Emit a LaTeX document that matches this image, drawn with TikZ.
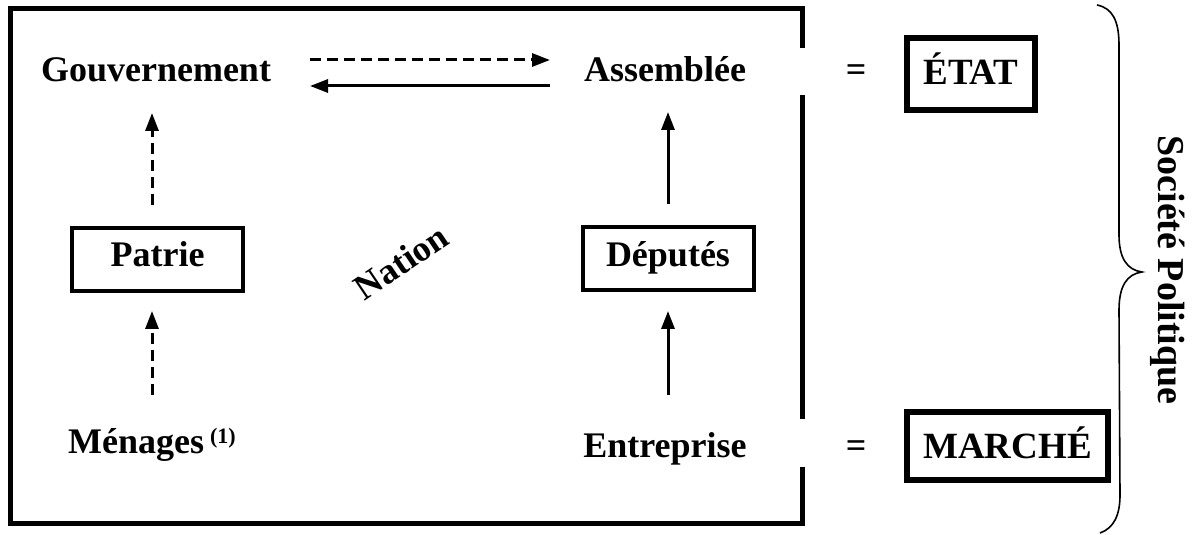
\documentclass[tikz,border=0pt]{standalone}
\usepackage{fontspec}
\setmainfont{Liberation Serif}
\usetikzlibrary{arrows.meta}
\begin{document}
\begin{tikzpicture}[x=1bp,y=-1bp,
  lbl/.style={font=\fontsize{36bp}{40bp}\selectfont\bfseries, inner sep=0pt},
  eqs/.style={font=\fontsize{36bp}{40bp}\selectfont\bfseries, inner sep=0pt},
  smallbox/.style={lbl, draw, line width=4bp, minimum width=171bp, minimum height=63bp, text height=20bp, text depth=5bp},
  bigbox/.style={font=\fontsize{37bp}{40bp}\selectfont\bfseries, draw, line width=6.5bp, inner sep=0pt, text depth=0pt},
  frame/.style={line width=5bp},
  arr/.style={line width=3bp, -{Triangle[length=18bp,width=13bp]}},
  darr/.style={arr, dash pattern=on 11bp off 6bp},
  bracestyle/.style={line width=1.6bp}
]
\useasboundingbox (0,0) rectangle (1195,535);

% frame
\draw[frame] (802,48) -- (802,9) -- (10,9) -- (10,523) -- (802,523) -- (802,467);
\draw[frame] (802,95) -- (802,419);

% text nodes
\node[lbl, anchor=base] (gouv) at (156,82) {Gouvernement};
\node[lbl, anchor=base] (assem) at (665,82) {Assemblée};
\node[smallbox] (patrie) at (157.5,259.5) {Patrie};
\node[smallbox] (deputes) at (668,259) {Députés};
\node[lbl, anchor=base west] (menages) at (68,453) {Ménages\,\raisebox{10bp}{\fontsize{22bp}{24bp}\selectfont (1)}};
\node[lbl, anchor=base] (entre) at (665,457) {Entreprise};
\node[lbl, rotate=34] (nation) at (401,262) {Nation};

\node[eqs] (eq1) at (856,73) {=};
\node[eqs] (eq2) at (856,449) {=};
\node[bigbox, minimum width=128bp, minimum height=72bp, text height=22bp] (etat) at (971,74) {ÉTAT};
\node[bigbox, minimum width=201bp, minimum height=68bp, text height=24bp] (marche) at (1007.5,446) {MARCHÉ};

\node[lbl, font=\fontsize{38bp}{40bp}\selectfont\bfseries, rotate=-90] (societe) at (1168,270) {Société Politique};

% arrow end coordinates
\coordinate (h1s) at (310,60); \coordinate (h1e) at (550,60);
\coordinate (h2s) at (550,86); \coordinate (h2e) at (310,86);
\coordinate (g1s) at (152,205); \coordinate (g1e) at (152,113);
\coordinate (p1s) at (152,395); \coordinate (p1e) at (152,311);
\coordinate (a1s) at (668,204); \coordinate (a1e) at (668,112);
\coordinate (d1s) at (668,395); \coordinate (d1e) at (668,311);

\draw[darr] (h1s) -- (h1e);
\draw[arr] (h2s) -- (h2e);
\draw[darr] (g1s) -- (g1e);
\draw[darr] (p1s) -- (p1e);
\draw[arr] (a1s) -- (a1e);
\draw[arr] (d1s) -- (d1e);

% brace
\draw[bracestyle] (1097,5) .. controls (1112,8) and (1119,20) .. (1119,45) -- (1119,235)
  .. controls (1119,258) and (1127,270) .. (1142,272)
  .. controls (1127,274) and (1119,286) .. (1119,310) -- (1120,495)
  .. controls (1120,515) and (1114,528) .. (1100,533);
\end{tikzpicture}
\end{document}
